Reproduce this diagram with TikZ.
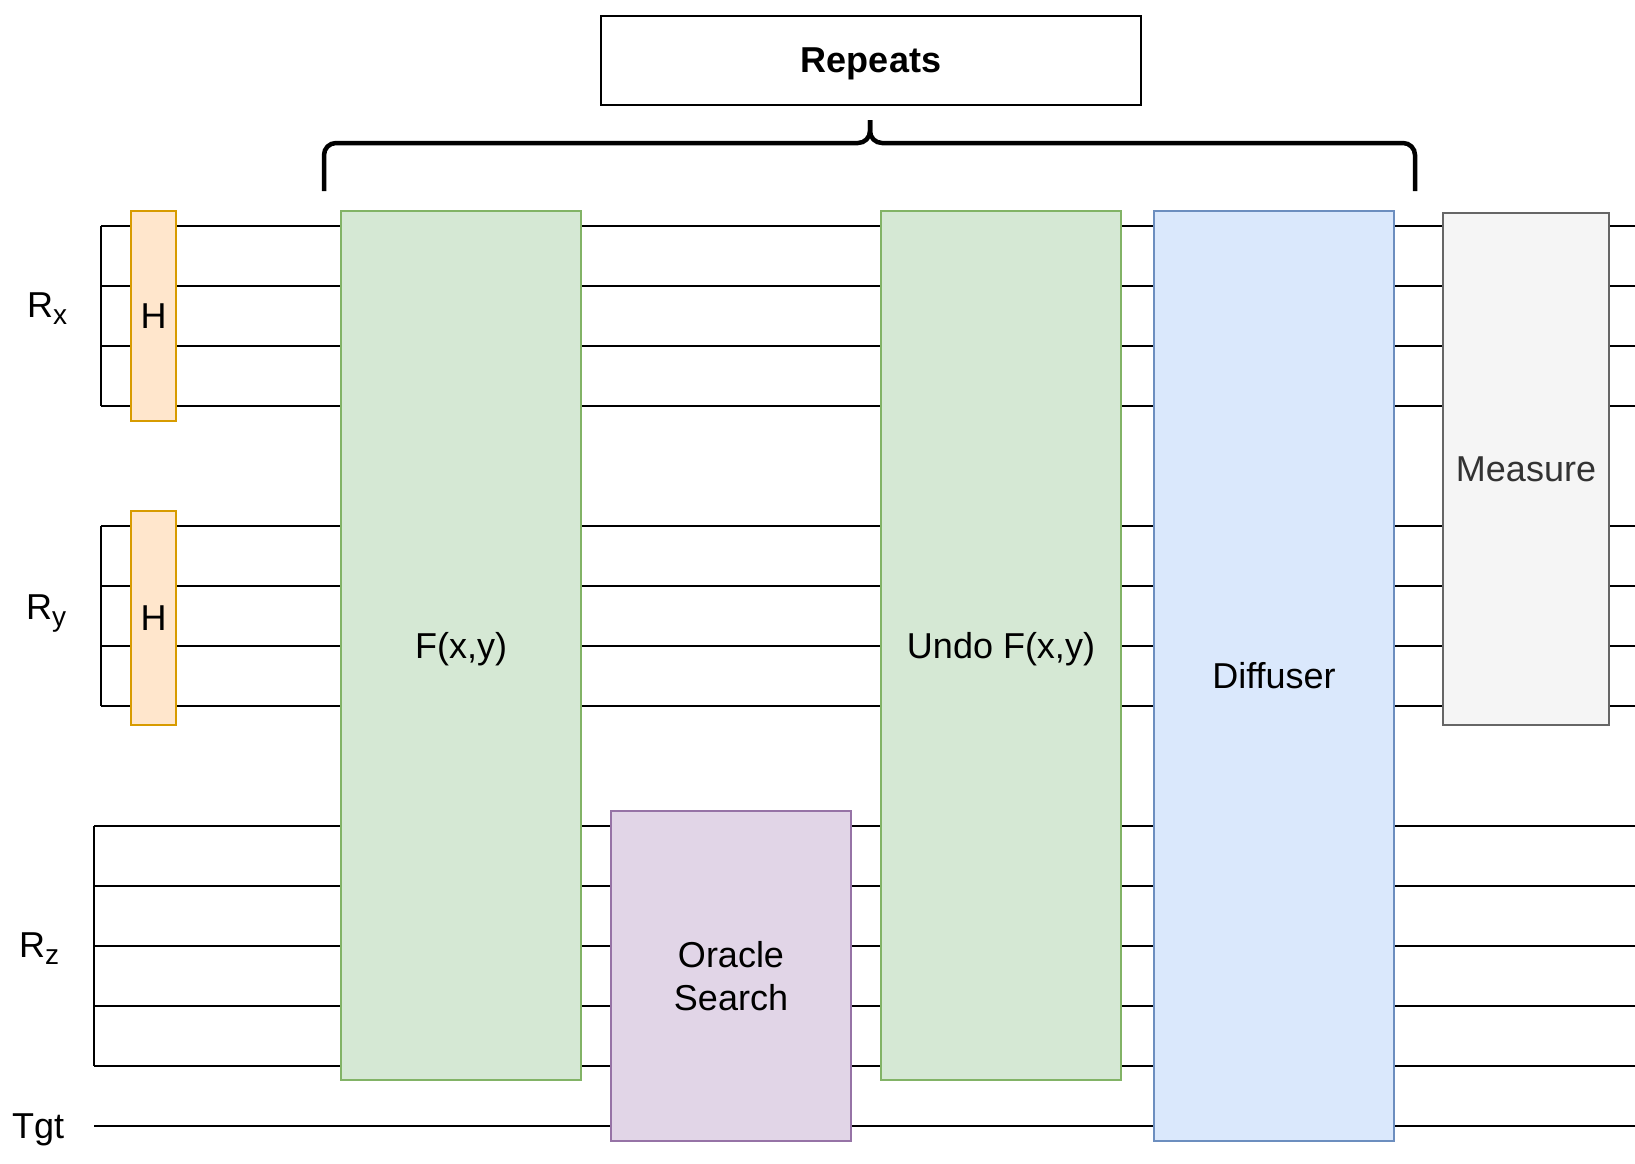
\documentclass[tikz,border=0pt]{standalone}
\usepackage{fontspec}
\setmainfont{Liberation Sans}
\usepackage{tikz}
\usetikzlibrary{positioning}

\definecolor{hfill}{HTML}{FFE6CC}
\definecolor{hdraw}{HTML}{D79B00}
\definecolor{ffill}{HTML}{D5E8D4}
\definecolor{fdraw}{HTML}{82B366}
\definecolor{ofill}{HTML}{E1D5E7}
\definecolor{odraw}{HTML}{9673A6}
\definecolor{dfill}{HTML}{DAE8FC}
\definecolor{ddraw}{HTML}{6C8EBF}
\definecolor{mfill}{HTML}{F5F5F5}
\definecolor{mdraw}{HTML}{666666}
\definecolor{mtext}{HTML}{333333}

\newcommand{\regsub}[1]{\raisebox{-7pt}{\fontsize{28}{28}\selectfont #1}}

\begin{document}
\begin{tikzpicture}[
    x=1pt, y=-1pt,
    font=\fontsize{36}{43}\selectfont,
    wire/.style={line width=1.3pt},
    repbrace/.style={line width=4.5pt, rounded corners=12pt},
    gate/.style={draw, line width=1.3pt, anchor=north west, inner sep=0pt, outer sep=0pt, align=center},
    hgate/.style={gate, fill=hfill, draw=hdraw, minimum width=45pt},
    fgate/.style={gate, fill=ffill, draw=fdraw, minimum width=240pt, minimum height=869pt, text depth=0pt},
    reg/.style={anchor=base west, inner sep=0pt}
]
\useasboundingbox (0,0) rectangle (1635,1164);

% Fili dei registri
\foreach \y in {226,286,346,406,526,586,646,706}
    \draw[wire] (101,\y) -- (1635,\y);
\foreach \y in {826,886,946,1006,1066,1126}
    \draw[wire] (94,\y) -- (1635,\y);
\draw[wire] (101,226) -- (101,406);
\draw[wire] (101,526) -- (101,706);
\draw[wire] (94,826) -- (94,1066);

% Etichette
\node[reg] (rx) at (27,317) {R\regsub{x}};
\node[reg] (ry) at (26,619) {R\regsub{y}};
\node[reg] (rz) at (19,957) {R\regsub{z}};
\node[reg] (tgt) at (12,1138) {Tgt};

% Porte
\node[hgate, minimum height=210pt] (hx) at (131,211) {H};
\node[hgate, minimum height=214pt] (hy) at (131,511) {H};
\node[fgate] (f) at (341,211) {F(x,y)};
\node[gate, fill=ofill, draw=odraw, minimum width=240pt, minimum height=330pt] (oracle) at (611,811) {Oracle\\Search};
\node[fgate] (undo) at (881,211) {Undo F(x,y)};
\node[gate, fill=dfill, draw=ddraw, minimum width=240pt, minimum height=930pt] (diff) at (1154,211) {Diffuser};
\node[gate, fill=mfill, draw=mdraw, text=mtext, minimum width=166pt, minimum height=512pt] (meas) at (1443,213) {Measure};

% Ripetizioni
\node[gate, line width=1.5pt, minimum width=540pt, minimum height=89pt, text depth=0pt, font=\fontsize{36}{43}\selectfont\bfseries] (rep) at (601,16) {Repeats};
\draw[repbrace] (324,191) |- (870,143) -- (870,120);
\draw[repbrace] (1415,191) |- (870,143) -- (870,120);

\end{tikzpicture}
\end{document}
